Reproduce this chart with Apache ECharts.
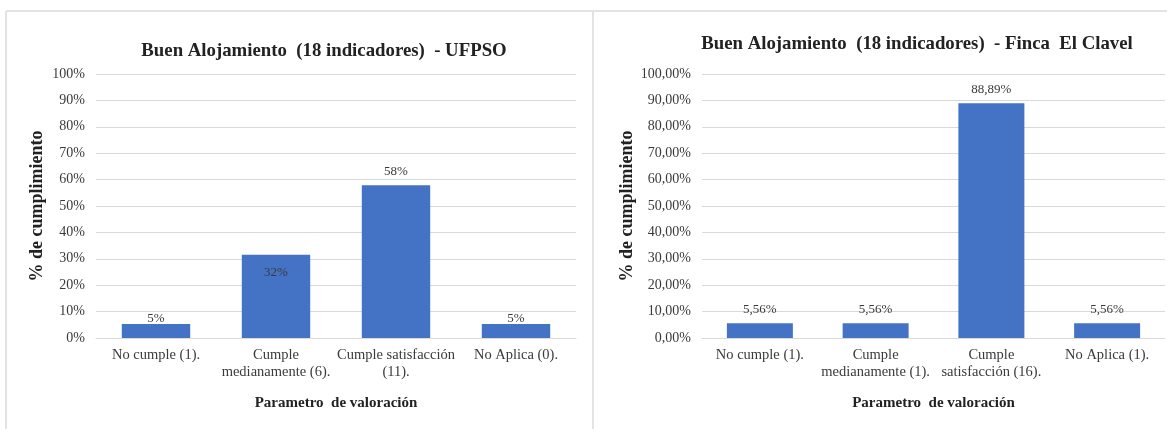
<!DOCTYPE html>
<html>
<head>
<meta charset="utf-8">
<script src="https://cdn.jsdelivr.net/npm/echarts@6/dist/echarts.min.js"></script>
<style>
html,body{margin:0;padding:0;background:#fff;}
#chart{width:1167px;height:429px;}
</style>
</head>
<body>
<div id="chart"></div>
<script>
// ---- data ----
const leftTitle = 'Buen Alojamiento  (18 indicadores)  - UFPSO';
const rightTitle = 'Buen Alojamiento  (18 indicadores)  - Finca  El Clavel';
const leftCategories = ['No cumple (1).', 'Cumple\nmedianamente (6).', 'Cumple satisfacción\n(11).', 'No Aplica (0).'];
const rightCategories = ['No cumple (1).', 'Cumple\nmedianamente (1).', 'Cumple\nsatisfacción (16).', 'No Aplica (1).'];
const leftValues = [5.26, 31.58, 57.89, 5.26];
const rightValues = [5.56, 5.56, 88.89, 5.56];
const yAxisName = '% de cumplimiento';
const xAxisName = 'Parametro  de valoración';

const FONT = '"Liberation Serif", "Times New Roman", serif';
const BAR = '#4472C4';
const GRIDC = '#d9d9d9';
const TICKC = '#3a3a3a';
const TITLEC = '#222222';

const chart = echarts.init(document.getElementById('chart'));

function yAxis(gridIndex, decimals, nameGap) {
  return {
    type: 'value', gridIndex: gridIndex, min: 0, max: 100, interval: 10,
    name: yAxisName, nameLocation: 'middle', nameGap: nameGap, nameRotate: 90,
    nameTextStyle: {fontFamily: FONT, fontWeight: 'bold', fontSize: 18, color: TITLEC},
    axisLine: {show: false}, axisTick: {show: false},
    axisLabel: {fontFamily: FONT, fontSize: 14, color: TICKC, margin: 11,
      formatter: v => decimals ? v.toFixed(decimals).replace('.', ',') + '%' : v + '%'},
    splitLine: {lineStyle: {color: GRIDC, width: 1}}
  };
}
function xAxis(gridIndex, cats) {
  return {
    type: 'category', gridIndex: gridIndex, data: cats,
    name: xAxisName, nameLocation: 'middle', nameGap: 58,
    nameTextStyle: {fontFamily: FONT, fontWeight: 'bold', fontSize: 15, color: TITLEC},
    axisLine: {lineStyle: {color: GRIDC, width: 1}}, axisTick: {show: false},
    axisLabel: {fontFamily: FONT, fontSize: 14.5, color: TICKC, margin: 9, lineHeight: 17, interval: 0}
  };
}
const labelBase = {show: true, fontFamily: FONT, fontSize: 13, color: TICKC};

const leftData = leftValues.map((v, i) => {
  let lab = {position: 'top', distance: 7};
  if (i === 0 || i === 3) lab = {position: 'top', distance: -1};
  if (i === 1) lab = {position: 'insideTop', distance: 11};
  return {value: v, label: lab};
});

const option = {
  animation: false,
  backgroundColor: '#fff',
  title: [
    {text: leftTitle, left: 319, top: 37, textAlign: 'center',
     textStyle: {fontFamily: FONT, fontWeight: 'bold', fontSize: 18.8, color: TITLEC}},
    {text: rightTitle, left: 912, top: 30, textAlign: 'center',
     textStyle: {fontFamily: FONT, fontWeight: 'bold', fontSize: 18.8, color: TITLEC}}
  ],
  grid: [
    {left: 96, top: 74, width: 480, height: 264, containLabel: false},
    {left: 702, top: 74, width: 463, height: 264, containLabel: false}
  ],
  xAxis: [xAxis(0, leftCategories), xAxis(1, rightCategories)],
  yAxis: [yAxis(0, 0, 50), yAxis(1, 2, 66)],
  series: [
    {type: 'bar', xAxisIndex: 0, yAxisIndex: 0, data: leftData, barWidth: '57%',
     itemStyle: {color: BAR},
     label: Object.assign({}, labelBase, {formatter: p => Math.round(p.value) + '%'})},
    {type: 'bar', xAxisIndex: 1, yAxisIndex: 1, data: rightValues, barWidth: '57%',
     itemStyle: {color: BAR},
     label: Object.assign({}, labelBase, {position: 'top', distance: 7,
       formatter: p => p.value.toFixed(2).replace('.', ',') + '%'})}
  ],
  graphic: [
    {type: 'line', shape: {x1: 6, y1: 11, x2: 1167, y2: 11}, style: {stroke: '#e3e3e3', lineWidth: 2}, silent: true},
    {type: 'line', shape: {x1: 6, y1: 11, x2: 6, y2: 429}, style: {stroke: '#e3e3e3', lineWidth: 2}, silent: true},
    {type: 'line', shape: {x1: 593, y1: 11, x2: 593, y2: 429}, style: {stroke: '#e3e3e3', lineWidth: 2}, silent: true}
  ]
};
chart.setOption(option);
</script>
</body>
</html>
